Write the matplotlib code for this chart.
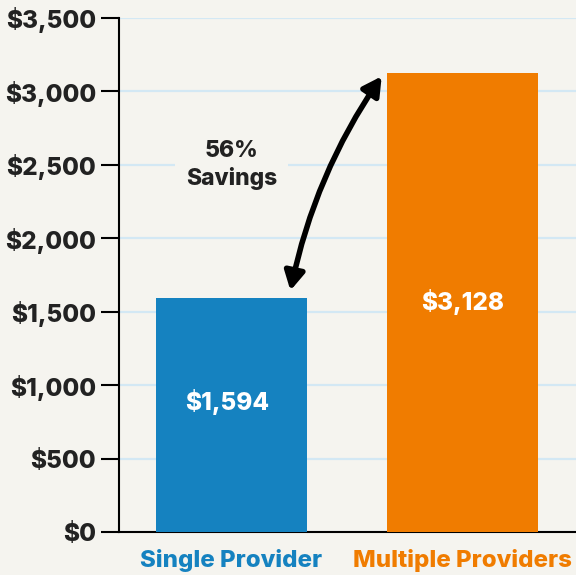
import matplotlib.pyplot as plt
from matplotlib.ticker import FuncFormatter

# data
categories = ['Single Provider', 'Multiple Providers']
costs = [1594, 3128]
bar_colors = ['#1582c0', '#f07c00']
y_ticks = [0, 500, 1000, 1500, 2000, 2500, 3000, 3500]
savings_label = '56%\nSavings'

bg = '#f5f4ef'
ink = '#222222'
grid_color = '#d3e8f4'
weight = 800

plt.rcParams['font.family'] = ['Inter', 'DejaVu Sans']

fig = plt.figure(figsize=(5.76, 5.75), dpi=100, facecolor=bg)
ax = fig.add_axes([119 / 576, 43 / 575, 457 / 576, 514 / 575])
ax.set_facecolor(bg)

x = list(range(len(categories)))
bars = ax.bar(x, costs, width=0.654, color=bar_colors, zorder=3)

ax.set_xlim(-0.487, 1.491)
ax.set_ylim(0, 3500)
ax.set_yticks(y_ticks)
ax.yaxis.set_major_formatter(FuncFormatter(lambda v, p: '${:,.0f}'.format(v)))
ax.tick_params(axis='y', length=13, width=1.5, color='black', pad=3.5,
               labelsize=17.5, labelcolor=ink)
for lbl in ax.get_yticklabels():
    lbl.set_fontweight(weight)

ax.set_xticks(x)
ax.set_xticklabels(categories, fontsize=17.3, fontweight=weight)
for lbl, c in zip(ax.get_xticklabels(), bar_colors):
    lbl.set_color(c)
ax.tick_params(axis='x', length=0, pad=12)

ax.grid(axis='y', color=grid_color, linewidth=1.6, zorder=0)
ax.set_axisbelow(True)
for side in ['top', 'right']:
    ax.spines[side].set_visible(False)
for side in ['left', 'bottom']:
    ax.spines[side].set_linewidth(1.5)
    ax.spines[side].set_color('black')

# value labels inside bars
label_offsets = [(-3, 9), (0, 0)]
for xi, v, off in zip(x, costs, label_offsets):
    ax.annotate('${:,}'.format(v), (xi, v / 2), xytext=off,
                textcoords='offset points', ha='center', va='center',
                color='white', fontsize=17.5, fontweight=weight, zorder=4)

# savings note
ax.text(0, 2500, savings_label, ha='center', va='center', fontsize=16.5,
        fontweight=weight, color=ink, linespacing=1.3, zorder=2,
        bbox=dict(facecolor=bg, edgecolor='none', pad=8))

# double arrow between the bar tops
ax.annotate('', xy=(0.65, costs[1] - 25), xytext=(0.255, costs[0] + 50),
            arrowprops=dict(arrowstyle='<|-|>,head_length=1.1,head_width=0.6',
                            lw=4, color='black', shrinkA=0, shrinkB=0,
                            connectionstyle='arc3,rad=-0.1'),
            zorder=5)

fig.savefig('out.png', dpi=100, facecolor=bg)
